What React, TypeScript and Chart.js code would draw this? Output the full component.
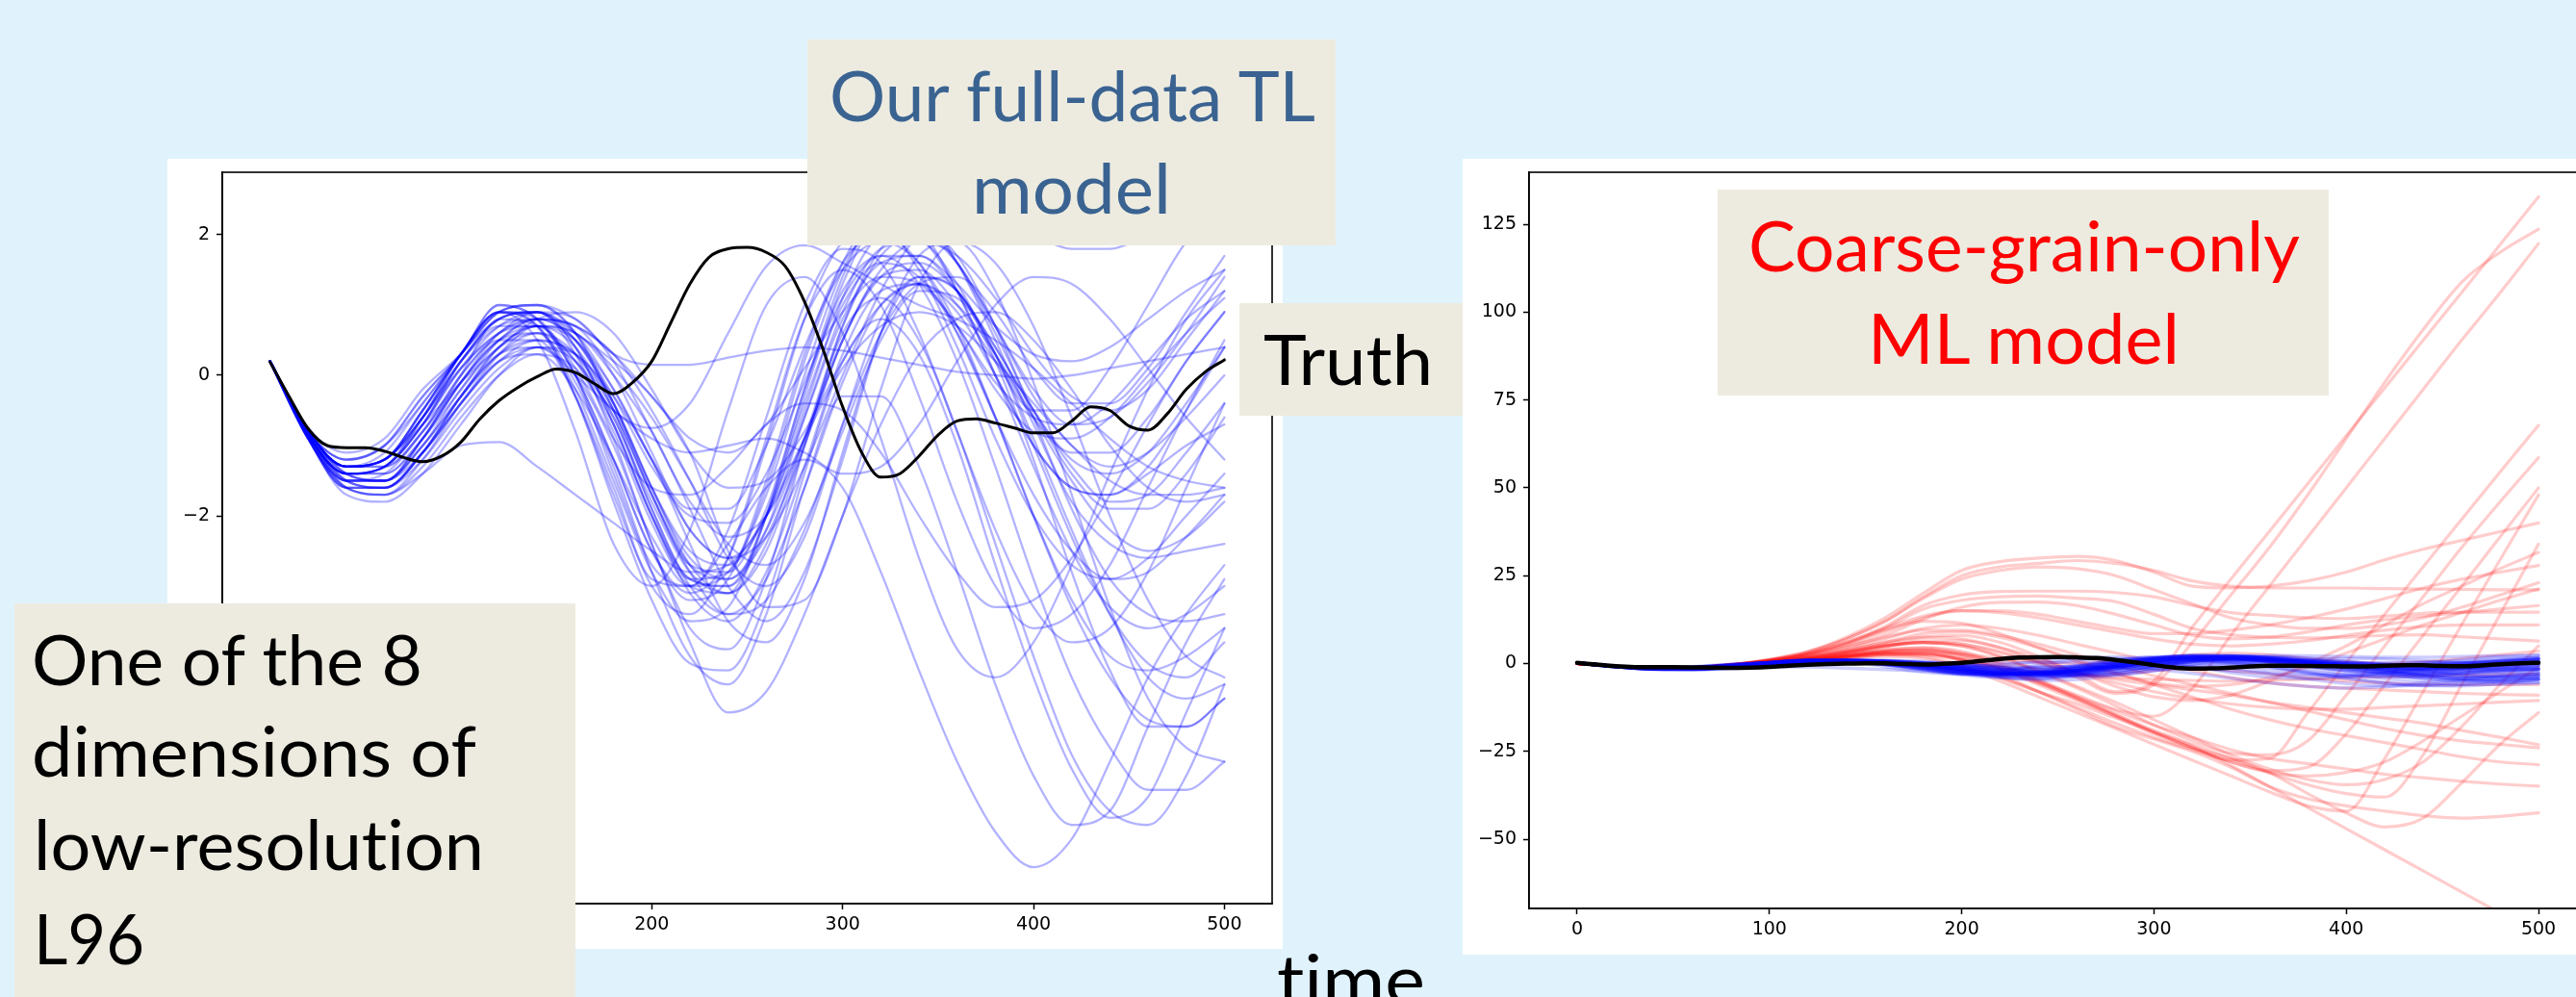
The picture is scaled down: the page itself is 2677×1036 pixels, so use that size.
import React, { useEffect, useRef } from "react";
import { Chart, registerables } from "chart.js";

Chart.register(...registerables);
Chart.defaults.font.family = "DejaVu Sans";

// ---------------- data ----------------
const TIME = [0, 20, 40, 60, 80, 100, 120, 140, 160, 180, 200, 220, 240, 260, 280, 300, 320, 340, 360, 380, 400, 420, 440, 460, 480, 500];

const TRUTH_T = [0, 10, 20, 30, 40, 50, 60, 70, 80, 90, 100, 110, 120, 130, 140, 150, 160, 170, 180, 190, 200, 210, 220, 230, 240, 250, 260, 270, 280, 290, 300, 310, 320, 330, 340, 350, 360, 370, 380, 390, 400, 410, 420, 430, 440, 450, 460, 470, 480, 490, 500];
const TRUTH_V = [0.19, -0.3, -0.76, -1.0, -1.03, -1.03, -1.08, -1.17, -1.23, -1.15,
  -0.95, -0.62, -0.36, -0.17, -0.02, 0.09, 0.04, -0.12, -0.26, -0.1,
  0.2, 0.75, 1.3, 1.68, 1.8, 1.82, 1.75, 1.55, 1.05, 0.35,
  -0.45, -1.1, -1.45, -1.4, -1.15, -0.85, -0.65, -0.62, -0.68, -0.75,
  -0.82, -0.82, -0.65, -0.45, -0.5, -0.72, -0.78, -0.55, -0.2, 0.05,
  0.22];

// transfer-learning ensemble (blue)
const TL_RUNS: number[][] = [
  [0.2,-0.85,-1.4,-1.3,-0.6,0.3,0.9,0.7,-0.3,-1.7, -3.0,-3.4,-2.6,-0.9,0.8,1.5,1.0,-0.3,-1.8,-3.0, -3.6,-3.4,-2.7,-1.6,-0.5,0.5],
  [0.2,-0.8,-1.3,-1.2,-0.5,0.3,0.9,0.8,0.0,-1.4, -2.7,-3.0,-2.2,-0.6,1.0,1.8,1.6,0.6,-0.8,-2.2, -3.3,-3.8,-3.6,-2.8,-1.6,-0.4],
  [0.2,-0.85,-1.5,-1.4,-0.8,0.0,0.5,0.5,-0.3,-1.6, -2.9,-3.0,-2.4,-1.6,-1.2,-1.6,-2.8,-4.2,-5.5,-6.5, -7.0,-6.6,-5.5,-4.3,-3.4,-2.7],
  [0.2,-0.9,-1.5,-1.5,-0.9,0.0,0.8,0.7,-0.3,-1.8, -3.2,-4.1,-4.2,-3.2,-1.4,0.2,0.8,0.3,-1.0,-2.7, -4.3,-5.6,-6.3,-6.0,-4.8,-3.6],
  [0.2,-0.8,-1.3,-1.2,-0.5,0.3,0.9,0.7,-0.2,-1.5, -2.8,-3.5,-3.3,-2.0,-0.2,1.2,1.7,1.3,0.2,-1.3, -2.9,-4.3,-5.3,-5.9,-5.9,-5.5],
  [0.2,-0.8,-1.2,-1.0,-0.3,0.3,1.0,0.8,0.0,-1.2, -2.5,-3.1,-2.6,-1.0,0.8,1.9,2.1,1.5,0.4,-0.9, -2.0,-2.7,-2.9,-2.6,-2.0,-1.4],
  [0.2,-0.85,-1.4,-1.3,-0.7,0.2,0.8,0.9,0.4,-0.7, -2.0,-2.9,-2.8,-1.6,0.2,1.6,2.3,2.1,1.2,0.0, -1.0,-1.6,-1.7,-1.3,-0.5,0.4],
  [0.2,-0.8,-1.3,-1.2,-0.5,0.3,0.9,0.9,0.6,0.2, -0.3,-1.1,-2.5,-3.3,-3.2,-2.0,-0.2,1.3,1.9,1.6, 0.7,-0.6,-2.0,-3.2,-4.0,-4.3],
  [0.2,-0.8,-1.4,-1.5,-0.9,-0.1,0.5,0.6,-0.1,-1.3, -2.8,-4.0,-4.4,-3.4,-1.6,-0.3,-0.3,-1.3,-2.8,-4.4, -5.7,-6.4,-6.2,-5.0,-3.8,-2.9],
  [0.2,-0.85,-1.3,-1.2,-0.5,0.3,0.8,0.9,0.3,-0.9, -2.4,-3.6,-3.9,-2.9,-1.0,0.6,1.1,0.5,-0.8,-2.4, -4.0,-5.4,-6.2,-6.4,-5.7,-4.4],
  [0.2,-0.9,-1.6,-1.7,-1.2,-0.4,0.3,0.7,0.6,0.0, -0.8,-1.9,-3.0,-3.5,-2.8,-1.2,0.6,1.7,1.9,1.2, -0.1,-1.7,-3.3,-4.6,-5.3,-5.5],
  [0.2,-0.8,-1.3,-1.3,-0.8,-0.1,0.5,0.8,0.7,0.3, -0.5,-1.5,-2.6,-3.0,-2.3,-0.7,0.8,1.4,1.2,0.3, -1.0,-2.3,-3.4,-4.1,-4.3,-3.8],
  [0.2,-0.85,-1.4,-1.5,-1.0,-0.2,0.4,0.6,0.2,-0.8, -2.1,-3.0,-3.1,-2.0,-0.4,1.0,1.6,1.4,0.7,-0.1, -0.6,-0.7,-0.4,0.2,0.8,1.2],
  [0.2,-0.9,-1.7,-1.8,-1.4,-0.7,0.0,0.4,0.3,-0.4, -1.6,-2.7,-3.1,-2.5,-1.0,0.7,1.8,2.1,1.7,0.7, -0.6,-1.9,-2.9,-3.4,-3.5,-3.4],
  [0.2,-0.8,-1.3,-1.1,-0.4,0.3,0.9,1.0,0.6,-0.4, -1.7,-2.7,-2.8,-1.9,-0.2,1.4,2.3,2.3,1.6,0.5, -0.7,-1.8,-2.4,-2.6,-2.5,-2.4],
  [0.2,-0.85,-1.5,-1.6,-1.1,-0.3,0.3,0.5,0.3,-0.3, -1.2,-2.4,-3.5,-3.8,-2.9,-1.1,0.6,1.4,1.2,0.2, -1.2,-2.8,-4.2,-5.0,-5.0,-4.6],
  [0.2,-0.9,-1.6,-1.6,-1.1,-0.4,0.2,0.3,-0.2,-1.2, -2.3,-3.0,-2.8,-1.7,0.0,1.5,2.2,2.0,1.2,0.0, -1.3,-2.5,-3.3,-3.6,-3.4,-3.0],
  [0.2,-0.9,-1.6,-1.7,-1.3,-0.6,0.0,0.3,0.1,-0.7, -2.0,-3.1,-3.5,-2.8,-1.3,0.3,1.2,1.3,0.6,-0.6, -2.0,-3.2,-4.0,-4.2,-4.0,-3.6],
  [0.2,-0.8,-1.2,-1.0,-0.3,0.3,1.0,0.8,0.0,-1.2, -2.5,-3.2,-2.9,-1.5,0.3,1.6,2.0,1.6,0.6,-0.6, -1.7,-2.5,-2.9,-2.8,-2.3,-1.7],
  [0.2,-0.85,-1.4,-1.4,-0.9,-0.2,0.5,0.8,0.7,0.0, -1.1,-2.2,-2.6,-2.0,-0.5,1.1,2.0,2.1,1.6,0.7, -0.3,-1.0,-1.3,-1.1,-0.6,0.0],
  [0.2,-0.8,-1.3,-1.3,-0.8,0.0,0.6,0.9,0.8,0.2, -0.8,-1.8,-2.3,-2.0,-0.9,0.5,1.5,1.9,1.7,1.1, 0.3,-0.3,-0.5,-0.2,0.5,1.2],
  [0.2,-0.9,-1.5,-1.5,-1.0,-0.3,0.3,0.6,0.3,-0.6, -1.8,-2.8,-3.1,-2.4,-0.9,0.7,1.7,2.0,1.6,0.7, -0.2,-0.7,-0.6,-0.1,0.6,1.4],
  [0.2,-0.85,-1.4,-1.3,-0.7,0.2,0.8,0.9,0.4,-0.7, -2.0,-2.9,-3.0,-2.2,-0.6,0.9,1.8,1.9,1.3,0.3, -0.6,-1.1,-1.1,-0.6,0.2,0.9],
  [0.2,-0.8,-1.4,-1.5,-1.1,-0.4,0.2,0.5,0.3,-0.5, -1.7,-2.8,-3.4,-3.2,-2.2,-0.7,0.6,1.3,1.4,0.9, 0.1,-0.4,-0.4,0.1,0.9,1.7],
  [0.2,-0.85,-1.5,-1.5,-0.9,-0.1,0.6,0.8,0.5,-0.4, -1.6,-2.6,-2.9,-2.3,-1.0,0.5,1.4,1.6,1.2,0.4, -0.5,-1.3,-1.8,-1.7,-1.1,-0.4],
  [0.2,-0.8,-1.3,-1.2,-0.6,0.2,0.8,0.9,0.5,-0.4, -1.6,-2.5,-2.7,-2.0,-0.6,0.8,1.6,1.7,1.2,0.4, -0.5,-1.2,-1.4,-1.1,-0.4,0.4],
  [0.2,-0.9,-1.6,-1.6,-1.1,-0.3,0.4,0.7,0.6,0.1, -0.6,-1.5,-2.4,-2.7,-2.1,-0.8,0.5,1.2,1.1,0.3, -0.9,-2.2,-3.4,-4.3,-4.6,-4.4],
  [0.2,-0.85,-1.4,-1.3,-0.7,0.1,0.7,0.9,0.6,-0.2, -1.2,-1.9,-1.9,-1.0,0.4,1.5,1.9,1.6,0.7,-0.6, -2.0,-3.3,-4.3,-4.9,-5.0,-4.6],
  [0.2,-0.8,-1.2,-1.0,-0.4,0.3,0.9,1.0,0.6,-0.5, -1.9,-2.9,-3.0,-2.0,-0.3,1.3,2.2,2.2,1.6,0.6, -0.5,-1.4,-1.9,-1.9,-1.4,-0.6],
  [0.2,-0.85,-1.5,-1.6,-1.2,-0.5,0.1,0.4,0.2,-0.6, -1.9,-3.0,-3.4,-2.9,-1.6,-0.1,1.0,1.3,0.9,0.0, -1.0,-1.6,-1.7,-1.4,-1.0,-0.7],
  [0.2,-0.8,-1.3,-1.2,-0.6,0.2,0.7,0.8,0.5,-0.3, -1.3,-2.0,-2.1,-1.4,-0.1,1.1,1.7,1.7,1.3,0.7, 0.3,0.2,0.4,0.8,1.2,1.5],
  [0.2,-0.8,-1.4,-1.4,-0.9,-0.1,0.5,0.7,0.4,-0.5, -1.7,-2.7,-2.9,-2.2,-0.9,0.5,1.4,1.5,1.0,0.2, -0.5,-0.5,0.1,1.0,1.9,2.4],
  [0.2,-0.85,-1.5,-1.6,-1.1,-0.3,0.4,0.7,0.5,-0.2, -1.2,-2.2,-2.6,-2.3,-1.3,0.0,1.2,2.0,2.3,2.2, 2.0,1.8,1.8,2.0,2.2,2.3],
  [0.2,-0.9,-1.6,-1.6,-1.1,-0.4,0.2,0.4,0.0,-1.0, -2.4,-3.8,-4.8,-4.5,-3.4,-2.0,-0.7,0.3,0.8,0.9, 0.5,-0.2,-1.0,-1.6,-1.8,-1.7],
  [0.2,-0.75,-1.1,-0.9,-0.2,0.3,0.9,1.0,0.8,0.3, 0.15,0.15,0.25,0.35,0.4,0.35,0.25,0.15,0.05,0.0, -0.05,0.0,0.1,0.2,0.3,0.4],
  [0.2,-0.8,-1.3,-1.2,-0.6,0.1,0.6,0.7,0.2,-0.5, -0.75,-0.4,0.6,1.55,1.85,1.6,1.3,1.0,0.8,0.5, 0.1,-0.4,-0.9,-1.3,-1.5,-1.6],
  [0.2,-0.9,-1.6,-1.7,-1.4,-1.0,-0.95,-1.3,-1.7,-2.1, -2.5,-2.8,-2.7,-2.0,-0.9,0.1,0.7,0.9,0.7,0.2, -0.4,-1.0,-1.5,-1.7,-1.7,-1.6],
  [0.2,-0.8,-1.3,-1.2,-0.7,-0.1,0.4,0.8,0.9,0.6, -0.2,-1.1,-1.6,-1.5,-0.8,0.2,1.0,1.3,1.0,0.3, -0.6,-1.5,-2.2,-2.5,-2.3,-1.8],
  [0.2,-0.85,-1.4,-1.3,-0.7,0.1,0.6,0.8,0.7,0.3, -0.3,-0.9,-1.1,-0.7,0.1,0.9,1.4,1.3,0.7,-0.2, -0.8,-0.9,-0.6,0.0,0.6,1.1],
  [0.2,-0.85,-1.5,-1.5,-1.0,-0.3,0.3,0.4,0.0,-0.5, -0.9,-1.1,-1.0,-0.9,-1.1,-1.4,-1.3,-0.7,0.2,1.0, 1.4,1.3,0.8,0.1,-0.6,-1.2],
  [0.2,-0.8,-1.3,-1.2,-0.6,0.2,0.7,0.7,0.1,-0.9, -1.6,-1.7,-1.3,-0.7,-0.4,-0.5,-1.1,-2.0,-2.8,-3.3, -3.2,-2.6,-1.7,-0.7,0.2,0.9],
  [0.2,-0.85,-1.4,-1.3,-0.6,0.3,0.9,0.5,-0.8,-2.4, -3.0,-2.2,-0.5,1.0,1.4,0.6,-0.9,-2.6,-3.9,-4.3, -3.8,-2.7,-1.4,-0.2,0.8,1.5],
];

// coarse-grain-only ML ensemble (red)
const CG_RUNS: number[][] = [
  [0,-0.8,-1.4,-1.2,-0.3,1.2,3.5,7.5,13,20, 26.5,29,30,30.5,29.3,26,22,21.5,22,23.5, 26,29.5,32.5,35,37.5,40],
  [0,-0.8,-1.4,-1.2,-0.3,1.1,3.3,7,12,19, 25,27.5,28.5,29.3,28.5,26.5,23.5,22,21.5,21.5, 21.5,21.3,21.2,21.1,21,21],
  [0,-0.8,-1.4,-1.2,-0.4,0.9,2.8,6,10.5,16.5, 19.5,20.5,20.6,20.6,20.2,19,16.5,14.5,13.7,13, 12.8,13.5,14.3,14.6,14.6,14.6],
  [0,-0.8,-1.4,-1.2,-0.4,0.8,2.6,5.5,10,15.5, 18,19,19.2,18.6,17.6,14,10,8.2,7.5,7.3, 7.5,8,8.2,7.6,7,6.4],
  [0,-0.8,-1.4,-1.2,-0.4,0.7,2.2,4.5,8,12.5, 16,17.4,17.5,16.5,14,11,8,7,7.5,9, 11,12.5,13.5,14.5,15.5,16.5],
  [0,-0.8,-1.4,-1.2,-0.4,0.8,2.5,5.2,9,13, 15,15,14,12,10,8.5,8.5,9.5,11,13, 15.5,18.5,21.5,24,26,27.9],
  [0,-0.8,-1.4,-1.2,-0.5,0.3,1.3,2.8,4.8,6.5, 6.5,4.5,1.5,-2.5,-6.5,-9.5,-10.5,-9,-5,0, 5,11,17,22,27,31.6],
  [0,-0.8,-1.4,-1.2,-0.5,0.4,1.5,3.2,5.5,7.5, 8,6,2,-3,-8,-5,10.4,24,37.6,51.2, 64.8,78.4,92,105.6,119.2,132.8],
  [0,-0.8,-1.4,-1.2,-0.5,0.5,1.8,3.8,6,7.5, 7,4.5,0.5,-4,-8.5,-6,6,19.5,33,48, 64,80,95,108.5,117,123.6],
  [0,-0.8,-1.4,-1.2,-0.6,0.2,1,2.2,3.5,4, 2.5,-1,-5,-9,-13,-15,-7,8,22,36, 50,64,78,92,105.5,119.5],
  [0,-0.8,-1.4,-1.2,-0.6,0.1,0.8,1.8,2.5,2, -0.5,-4,-8,-12.5,-17,-21,-24.5,-27.5,-27,-14, 0.3,14,27.5,41,54.5,67.8],
  [0,-0.8,-1.4,-1.2,-0.5,0.4,1.6,3.2,5,6, 5,2,-2.5,-7,-12,-17.5,-22,-25.5,-26,-22, -9,5,19,33,46,58.6],
  [0,-0.8,-1.4,-1.2,-0.6,0.2,1.1,2.4,3.8,4.5, 3.5,0,-4.5,-9.5,-14.5,-19.5,-24,-28,-30.5,-29.5, -20,-6,8,22,36,50],
  [0,-0.8,-1.4,-1.2,-0.6,0,0.6,1.4,2,1.5, -1,-5,-9.5,-14,-18.5,-23,-27.5,-32,-36.5,-40.5, -42,-27,-8,11,29.5,48],
  [0,-0.8,-1.4,-1.2,-0.5,0.3,1.2,2.5,4,4.5, 3,-0.5,-5,-10,-15,-20,-24,-27,-31,-37, -42.5,-46.5,-44,-34,-23,-14],
  [0,-0.8,-1.4,-1.2,-0.6,0.1,0.9,2,3,3, 1,-3,-8,-13,-18,-21.5,-25,-29.5,-35,-38.5, -40.5,-42,-43.3,-44,-43.5,-42.5],
  [0,-0.8,-1.4,-1.2,-0.6,0,0.6,1.5,2.5,2.5, 1,-4,-8,-11.5,-15.5,-19.5,-23.5,-29,-35,-41, -47,-53,-59,-65,-71,-77],
  [0,-0.8,-1.4,-1.2,-0.5,0.4,1.5,3,5,6, 5.5,3,0,-2.5,-4.5,-6,-7.5,-9,-11,-12.5, -14,-15.5,-17,-19,-21,-23.1],
  [0,-0.8,-1.4,-1.2,-0.5,0.5,1.8,3.6,6,8.5, 9,7.5,4.5,1,-2.5,-6,-9.5,-13,-16,-18.5, -20.5,-22.5,-24.5,-26.5,-28,-28.8],
  [0,-0.8,-1.4,-1.2,-0.6,0.1,0.9,2,3.2,3.5, 2,-1.5,-5.5,-9.5,-13.5,-17.5,-21,-24.5,-27,-28.5, -30,-31.5,-32.5,-33.5,-34.3,-34.9],
  [0,-0.8,-1.4,-1.2,-0.5,0.3,1.2,2.4,3.5,3.8, 2.5,0.5,-1.5,-3,-4,-4.5,-4.8,-5,-4.8,-4.5, -4,-3.8,-3.5,-3.3,-3.1,-3],
  [0,-0.8,-1.4,-1.2,-0.5,0.6,2,4,7,10, 11,10,8,5.5,3,0.5,-2,-4,-5.5,-6.5, -7,-7.5,-8,-8.5,-8.8,-9],
  [0,-0.8,-1.4,-1.2,-0.4,0.9,2.8,5.8,9.5,12, 11.5,8.5,4.5,0.5,-3,-5.5,-6.5,-6,-4,-1, 3,7,11,14.5,18,21.2],
  [0,-0.8,-1.4,-1.2,-0.5,0.5,1.7,3.4,5.2,6, 5,2,-2,-6.5,-11,-16,-21,-26,-30,-33, -34.5,-33,-28,-18,-6,5],
  [0,-0.8,-1.4,-1.2,-0.5,0.4,1.5,3,4.8,6, 5.5,3.5,0.5,-2.5,-5.5,-8,-10,-11.5,-12.5,-13, -13,-12.5,-12,-11.5,-11,-10.5],
  [0,-0.8,-1.4,-1.2,-0.4,0.9,2.8,6,10,13.5, 15,14.5,13,11,9,7,5.5,5,5.5,6.5, 8,9.5,10.5,11,11,11],
  [0,-0.8,-1.4,-1.2,-0.3,1.1,3.3,7,12,18.5, 24,26.5,27.5,27,25,21,17,13,11,10, 10,11,13,16,19.5,23],
  [0,-0.8,-1.4,-1.2,-0.6,0.1,0.9,2,3,3, 1.5,-1.5,-5.5,-10,-14.5,-19,-23,-27,-31,-34.5, -37,-38,-26,-6,14,34],
  [0,-0.8,-1.4,-1.2,-0.5,0.2,1,2,2.8,2.5, 1,-1,-2.5,-3.5,-3,-2,-1.5,-2,-3,-4, -5,-5.5,-6,-6,-6,-6],
  [0,-0.8,-1.4,-1.2,-0.4,0.8,2.4,4.8,7.5,9.5, 9.5,8,5.5,2.5,-0.5,-3.5,-6,-8.5,-11,-13.5, -16,-18.5,-20.5,-22,-23,-24],
  [0,-0.8,-1.4,-1.2,-0.5,0.3,1.1,2.2,3.2,3.5, 2.8,1.5,0.5,0,0.5,1.5,2.5,3,2.5,1.5, 0.5,0,0.5,1.5,2.5,3.5],
  [0,-0.8,-1.4,-1.2,-0.6,0,0.7,1.6,2.6,2.8, 1.2,-2,-6,-10.5,-15,-19.5,-24,-28,-31,-32, -31,-28,-22,-15,-8,-1],
];

const X_TICKS = [0, 100, 200, 300, 400, 500];
const LEFT_Y_TICKS = [-6, -4, -2, 0, 2];
const RIGHT_Y_TICKS = [-50, -25, 0, 25, 50, 75, 100, 125];

// ---------------- helpers ----------------
const BG = "#e0f3fc";
const BOX = "#edebe0";

const fmt = (v: number | string) => {
  const n = Number(v);
  return n < 0 ? "\u2212" + Math.abs(n) : String(n);
};

const framePlugin = {
  id: "mplFrame",
  afterDatasetsDraw(chart: any) {
    const { ctx, chartArea } = chart;
    const { left, top, right, bottom } = chartArea;
    ctx.save();
    ctx.strokeStyle = "#000";
    ctx.lineWidth = 1.6;
    ctx.strokeRect(left, top, right - left, bottom - top);
    ctx.restore();
  },
};

function xy(xs: number[], ys: number[]) {
  return xs.map((x, i) => ({ x, y: ys[i] }));
}

type PanelProps = {
  left: number;
  top: number;
  width: number;
  height: number;
  yMin: number;
  yMax: number;
  yTicks: number[];
  yAxisWidth: number;
  xAxisHeight: number;
  padTop: number;
  padRight: number;
  datasets: any[];
};

function Panel(p: PanelProps) {
  const ref = useRef<HTMLCanvasElement | null>(null);
  useEffect(() => {
    if (!ref.current) return;
    const gridCommon = {
      drawOnChartArea: false,
      drawTicks: true,
      tickLength: 6,
      tickWidth: 1.5,
      tickColor: "#000",
    };
    const tickFont = { family: "DejaVu Sans", size: 19 };
    const chart = new Chart(ref.current, {
      type: "line",
      data: { datasets: p.datasets },
      options: {
        animation: false,
        responsive: false,
        maintainAspectRatio: false,
        devicePixelRatio: 1,
        events: [],
        layout: { padding: { top: p.padTop, right: p.padRight, left: 0, bottom: 0 } },
        plugins: { legend: { display: false }, tooltip: { enabled: false }, title: { display: false } },
        elements: { point: { radius: 0 } },
        scales: {
          x: {
            type: "linear",
            min: -25,
            max: 525,
            afterBuildTicks: (s: any) => {
              s.ticks = X_TICKS.map((v) => ({ value: v }));
            },
            afterFit: (s: any) => {
              s.height = p.xAxisHeight;
              s.paddingLeft = 0;
              s.paddingRight = 0;
            },
            grid: gridCommon,
            border: { display: true, color: "#000", width: 1.6 },
            ticks: { color: "#000", font: tickFont, padding: 5, maxRotation: 0, autoSkip: false, callback: fmt },
          },
          y: {
            type: "linear",
            min: p.yMin,
            max: p.yMax,
            afterBuildTicks: (s: any) => {
              s.ticks = p.yTicks.map((v) => ({ value: v }));
            },
            afterFit: (s: any) => {
              s.width = p.yAxisWidth;
              s.paddingTop = 0;
              s.paddingBottom = 0;
            },
            grid: gridCommon,
            border: { display: true, color: "#000", width: 1.6 },
            ticks: { color: "#000", font: tickFont, padding: 7, autoSkip: false, callback: fmt },
          },
        },
      } as any,
      plugins: [framePlugin],
    } as any);
    return () => chart.destroy();
  }, []);
  return (
    <canvas
      ref={ref}
      width={p.width}
      height={p.height}
      style={{ position: "absolute", left: p.left, top: p.top, width: p.width, height: p.height, background: "#fff" }}
    />
  );
}

function lineSet(data: { x: number; y: number }[], color: string, width: number) {
  return {
    data,
    borderColor: color,
    borderWidth: width,
    pointRadius: 0,
    fill: false,
    cubicInterpolationMode: "monotone",
    borderJoinStyle: "round",
    borderCapStyle: "round",
  };
}

const leftDatasets = [
  lineSet(xy(TRUTH_T, TRUTH_V), "#000", 3),
  ...TL_RUNS.map((r) => lineSet(xy(TIME, r), "rgba(0,0,255,0.3)", 2.3)),
];

const rightDatasets = [
  lineSet(xy(TRUTH_T, TRUTH_V), "#000", 4.5),
  ...TL_RUNS.map((r) => lineSet(xy(TIME, r), "rgba(0,0,255,0.2)", 3.5)),
  ...CG_RUNS.map((r) => lineSet(xy(TIME, r), "rgba(255,0,0,0.2)", 3.2)),
];

type Label = { x: number; y: number; w: number; text: string; color: string };

const LABELS: Label[] = [
  { x: 862, y: 126, w: 505, text: "Our full-data TL", color: "#3a6391" },
  { x: 1010, y: 222, w: 207, text: "model", color: "#3a6391" },
  { x: 1313, y: 400, w: 176, text: "Truth", color: "#000" },
  { x: 33, y: 712, w: 406, text: "One of the 8", color: "#000" },
  { x: 33, y: 807, w: 462, text: "dimensions of", color: "#000" },
  { x: 35, y: 904, w: 468, text: "low-resolution", color: "#000" },
  { x: 35, y: 1002, w: 115, text: "L96", color: "#000" },
  { x: 1817, y: 282, w: 573, text: "Coarse-grain-only", color: "#ff0000" },
  { x: 1941, y: 378, w: 324, text: "ML model", color: "#ff0000" },
  { x: 1327, y: 1044, w: 154, text: "time", color: "#000" },
];

export default function App() {
  return (
    <div
      style={{
        position: "absolute",
        left: 0,
        top: 0,
        width: 2677,
        height: 1036,
        overflow: "hidden",
        background: BG,
      }}
    >
      <Panel
        left={174}
        top={165}
        width={1159}
        height={821}
        yMin={-7.52}
        yMax={2.89}
        yTicks={LEFT_Y_TICKS}
        yAxisWidth={57}
        xAxisHeight={47}
        padTop={14}
        padRight={11}
        datasets={leftDatasets}
      />
      <Panel
        left={1520}
        top={165}
        width={1179}
        height={827}
        yMin={-69.7}
        yMax={139.8}
        yTicks={RIGHT_Y_TICKS}
        yAxisWidth={69}
        xAxisHeight={48}
        padTop={14}
        padRight={11}
        datasets={rightDatasets}
      />
      <svg
        width={2677}
        height={1036}
        style={{ position: "absolute", left: 0, top: 0, pointerEvents: "none" }}
      >
        <rect x={839} y={41} width={549} height={214} fill={BOX} />
        <rect x={1288} y={315} width={232} height={117} fill={BOX} />
        <rect x={15} y={627} width={583} height={420} fill={BOX} />
        <rect x={1785} y={197} width={635} height={214} fill={BOX} />
        {LABELS.map((l, i) => (
          <text
            key={i}
            x={l.x}
            y={l.y}
            textLength={l.w}
            lengthAdjust="spacingAndGlyphs"
            fontFamily="Lato, 'Open Sans', sans-serif"
            fontSize={71}
            fill={l.color}
            style={{ fontVariantLigatures: "none", fontFeatureSettings: '"liga" 0, "clig" 0' }}
          >
            {l.text}
          </text>
        ))}
      </svg>
    </div>
  );
}
